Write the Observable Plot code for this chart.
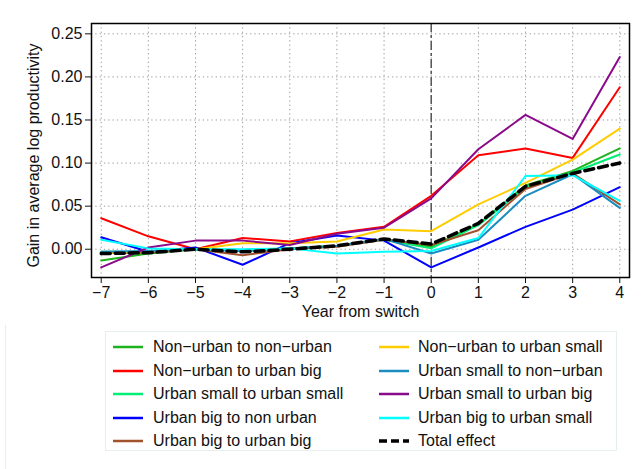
<!DOCTYPE html>
<html>
<head>
<meta charset="utf-8">
<script src="https://cdn.jsdelivr.net/npm/d3@7"></script>
<script src="https://cdn.jsdelivr.net/npm/@observablehq/plot@0.6"></script>
<style>
  body { margin: 0; background: white; font-family: "Liberation Sans", Arial, Helvetica, sans-serif; }
  #wrap { position: relative; width: 642px; height: 469px; overflow: hidden; background: white; }
  #outer { position: absolute; left: 5px; top: 7px; width: 700px; height: 600px; border-top: 1px solid #e8eeee; border-left: 1px solid #e8eeee; }
  #chart { position: absolute; left: 0; top: 0; }
  #legend { position: absolute; left: 105px; top: 331px; width: 512px; height: 120px; border: 1px solid #e6eeee; box-sizing: border-box; background: white; }
  .item { position: absolute; height: 20px; font-size: 16px; color: #111; white-space: nowrap; }
  .item svg { position: absolute; left: 0; top: 3px; }
  .item span { position: absolute; top: 0; line-height: 20px; }
</style>
</head>
<body>
<div id="wrap">
  <div id="outer"></div>
  <div id="chart"></div>
  <div id="legend"></div>
</div>
<script>
const years = [-7, -6, -5, -4, -3, -2, -1, 0, 1, 2, 3, 4];
const yTicks = [0, 0.05, 0.10, 0.15, 0.20, 0.25];

const seriesNames = [
  "Non\u2212urban to non\u2212urban",
  "Non\u2212urban to urban big",
  "Urban small to urban small",
  "Urban big to non urban",
  "Urban big to urban big",
  "Non\u2212urban to urban small",
  "Urban small to non\u2212urban",
  "Urban small to urban big",
  "Urban big to urban small",
  "Total effect"
];
const seriesColors = ["#1db31d", "#ff0000", "#00ee76", "#0000ff", "#a0522d", "#ffcc00", "#1a8cc0", "#8b0a8b", "#00ffff", "#000000"];

const nonurbanToNonurban = [-0.013, -0.005, 0.000, -0.001, 0.001, 0.004, 0.012, 0.003, 0.029, 0.074, 0.091, 0.117];
const nonurbanToUrbanBig = [0.036, 0.015, 0.000, 0.013, 0.009, 0.019, 0.026, 0.062, 0.109, 0.117, 0.106, 0.188];
const urbanSmallToUrbanSmall = [-0.003, -0.003, 0.000, -0.002, 0.001, 0.004, 0.011, 0.001, 0.028, 0.072, 0.089, 0.110];
const urbanBigToNonurban = [0.014, -0.003, 0.002, -0.018, 0.007, 0.016, 0.010, -0.021, 0.002, 0.026, 0.046, 0.072];
const urbanBigToUrbanBig = [-0.004, -0.004, 0.000, -0.007, 0.000, 0.003, 0.011, 0.005, 0.022, 0.070, 0.088, 0.052];
const nonurbanToUrbanSmall = [-0.005, -0.002, 0.000, 0.007, 0.007, 0.009, 0.023, 0.021, 0.052, 0.077, 0.104, 0.140];
const urbanSmallToNonurban = [-0.003, -0.002, 0.000, -0.002, 0.001, 0.004, 0.012, -0.005, 0.011, 0.062, 0.087, 0.048];
const urbanSmallToUrbanBig = [-0.021, 0.002, 0.010, 0.010, 0.005, 0.018, 0.025, 0.059, 0.116, 0.156, 0.128, 0.223];
const urbanBigToUrbanSmall = [0.011, 0.001, 0.000, 0.000, 0.001, -0.005, -0.003, -0.002, 0.013, 0.085, 0.086, 0.056];
const totalEffect = [-0.005, -0.004, 0.000, -0.003, 0.000, 0.004, 0.012, 0.006, 0.030, 0.073, 0.088, 0.100];

const allSeries = [nonurbanToNonurban, nonurbanToUrbanBig, urbanSmallToUrbanSmall, urbanBigToNonurban,
  urbanBigToUrbanBig, nonurbanToUrbanSmall, urbanSmallToNonurban, urbanSmallToUrbanBig, urbanBigToUrbanSmall, totalEffect];

const tidy = [];
allSeries.slice(0, 9).forEach((vals, i) => {
  vals.forEach((v, j) => tidy.push({series: seriesNames[i], year: years[j], value: v}));
});
const totalData = totalEffect.map((v, j) => ({series: seriesNames[9], year: years[j], value: v}));

const fmtX = d => d < 0 ? "\u2212" + Math.abs(d) : String(d);

const chart = Plot.plot({
  width: 642,
  height: 325,
  marginLeft: 91,
  marginRight: 13,
  marginTop: 23,
  marginBottom: 48,
  style: {fontFamily: '"Liberation Sans", Arial, Helvetica, sans-serif', fontSize: "16px", color: "#111", background: "white"},
  x: {domain: [-7.206, 4.206]},
  y: {domain: [-0.0328, 0.262]},
  color: {domain: seriesNames, range: seriesColors},
  marks: [
    Plot.ruleX(years, {stroke: "#9a9a9a", strokeDasharray: "1.3,3", strokeWidth: 1}),
    Plot.ruleY(yTicks, {stroke: "#9a9a9a", strokeDasharray: "1.3,3", strokeWidth: 1}),
    Plot.ruleX([0], {stroke: "#555", strokeDasharray: "9,3,3,3", strokeWidth: 1.5}),
    Plot.line(tidy, {x: "year", y: "value", z: "series", stroke: "series", strokeWidth: 2}),
    Plot.line(totalData, {x: "year", y: "value", stroke: "series", strokeWidth: 3.5, strokeDasharray: "9,5"}),
    Plot.frame({stroke: "black", strokeWidth: 1.5}),
    Plot.axisX({ticks: years, tickFormat: fmtX, tickSize: 6, tickPadding: 3, label: null, fontSize: 16}),
    Plot.axisY({ticks: yTicks, tickFormat: d => d.toFixed(2), tickSize: 6, tickPadding: 3, label: null, fontSize: 16}),
    Plot.text(["Year from switch"], {frameAnchor: "bottom", dy: 39, fontSize: 16, fill: "#111"}),
    Plot.text(["Gain in average log productivity"], {frameAnchor: "left", dx: -58, dy: 5, rotate: -90, textAnchor: "middle", fontSize: 16, fill: "#111"})
  ]
});
document.getElementById("chart").appendChild(chart);

// Legend (HTML, two columns)
const legend = document.getElementById("legend");
const colX = [[6, 47], [272, 312]];
const rowY = [5, 29, 52, 76, 99];
seriesNames.forEach((name, i) => {
  const col = i < 5 ? 0 : 1;
  const row = i % 5;
  const div = document.createElement("div");
  div.className = "item";
  div.style.left = colX[col][0] + "px";
  div.style.top = rowY[row] + "px";
  const isTotal = i === 9;
  div.innerHTML = `<svg width="32" height="14"><line x1="1" x2="31" y1="7" y2="7" stroke="${seriesColors[i]}" stroke-width="${isTotal ? 3.5 : 2.5}" ${isTotal ? 'stroke-dasharray="8,4"' : ''}/></svg><span style="left:${colX[col][1] - colX[col][0]}px">${name}</span>`;
  legend.appendChild(div);
});
</script>
</body>
</html>
